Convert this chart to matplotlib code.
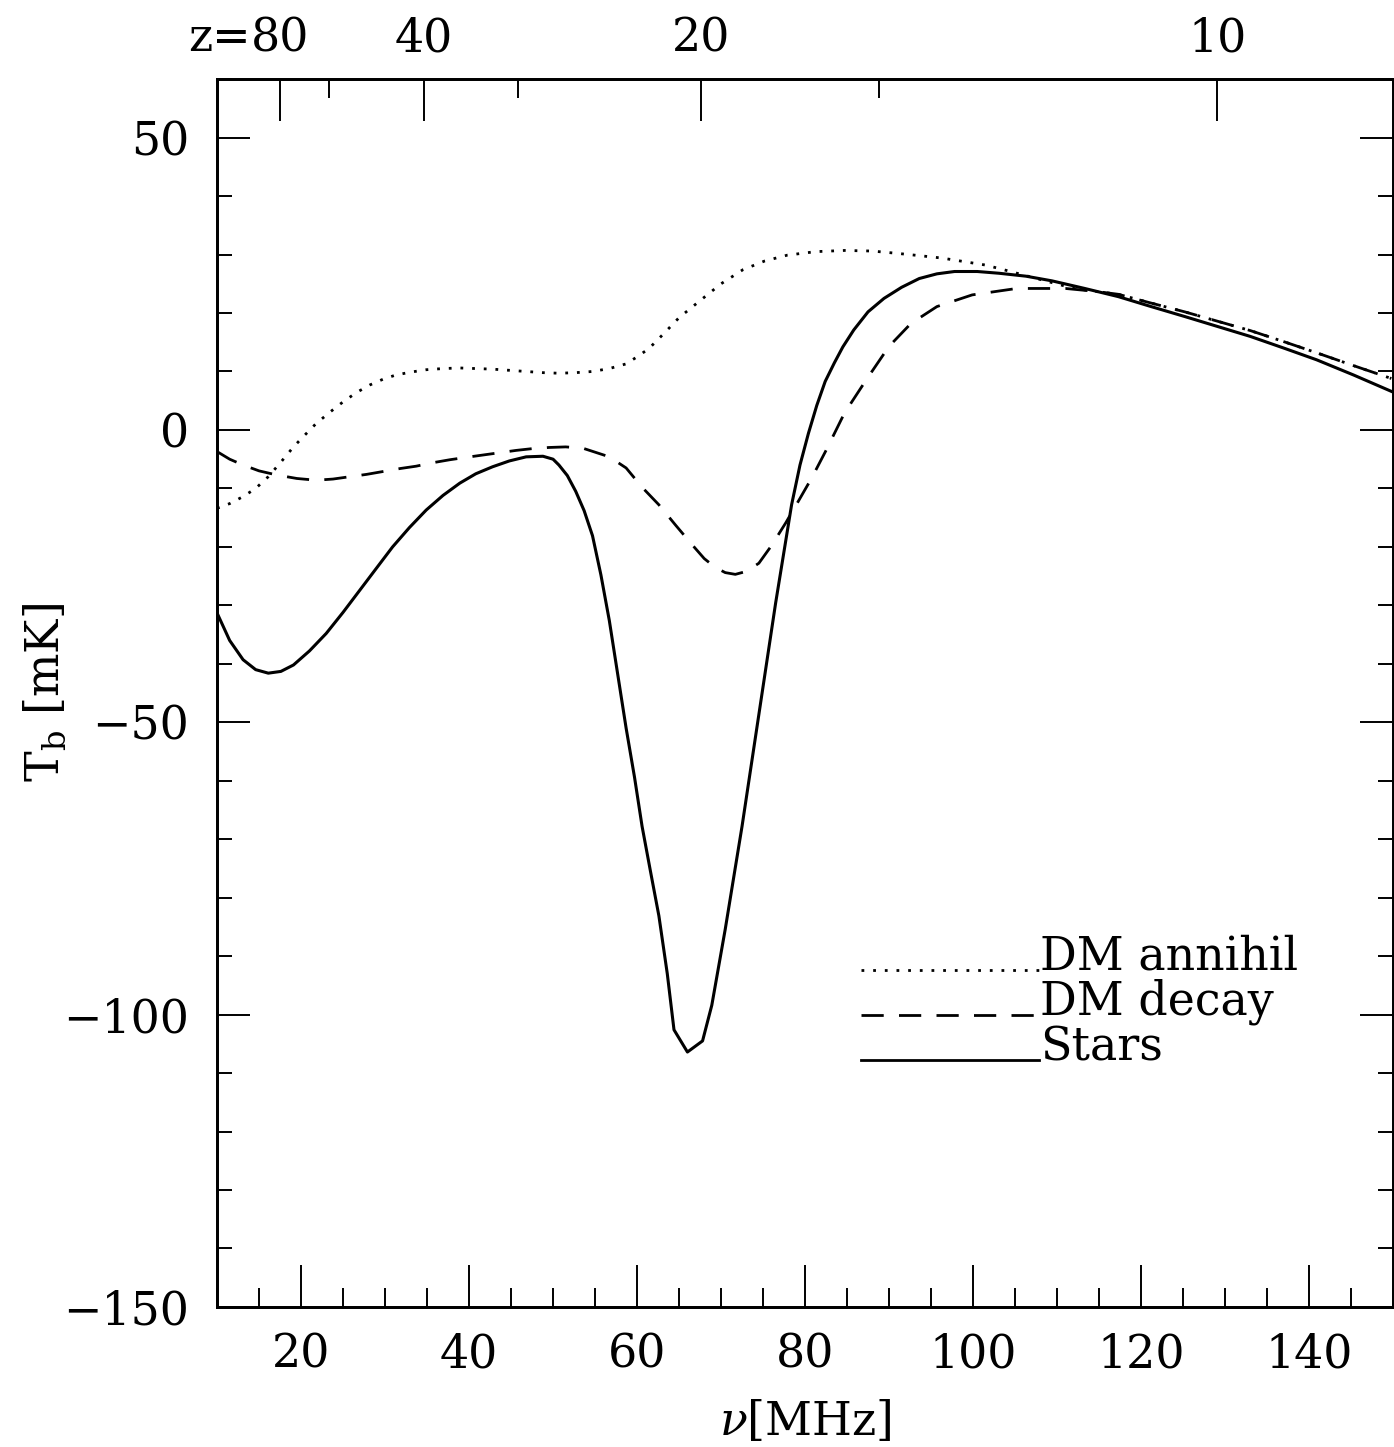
import numpy as np
import matplotlib
matplotlib.use('Agg')
import matplotlib.pyplot as plt
from matplotlib.ticker import MultipleLocator, FixedLocator, NullFormatter

# brightness temperature vs frequency
nu_stars = [10.0, 11.5, 13.1, 14.6, 16.1, 17.6, 19.1, 21.0, 23.0, 25.0, 27.0, 29.0,
            30.9, 32.9, 34.9, 36.9, 38.9, 40.8, 42.8, 44.8, 46.8, 48.8, 50.0, 50.7,
            51.7, 52.7, 53.7, 54.7, 55.7, 56.7, 57.7, 58.7, 59.7, 60.6, 61.6, 62.6,
            63.6, 64.4, 66.0, 67.8, 68.9, 70.5, 72.5, 74.5, 76.5, 78.4, 79.4, 80.4,
            81.4, 82.4, 83.5, 84.5, 85.8, 87.5, 89.4, 91.5, 93.6, 95.7, 97.8, 100.5,
            103.1, 106.3, 109.4, 113.3, 117.3, 121.2, 125.2, 129.1, 133.0, 137.0,
            140.9, 145.3, 149.8]
T_stars = [-31.3, -36.0, -39.3, -41.0, -41.6, -41.3, -40.2, -37.8, -34.8, -31.2, -27.4, -23.6,
           -20.0, -16.7, -13.7, -11.2, -9.1, -7.5, -6.3, -5.3, -4.6, -4.5, -5.0, -6.0,
           -7.8, -10.5, -13.8, -18.1, -24.8, -32.6, -41.8, -51.0, -59.4, -67.8, -75.5, -83.1,
           -93.0, -102.6, -106.4, -104.5, -98.4, -85.4, -67.8, -48.7, -29.6, -12.8, -6.0, -0.6,
           4.2, 8.3, 11.5, 14.2, 17.1, 20.2, 22.5, 24.4, 25.9, 26.7, 27.1, 27.1,
           26.8, 26.3, 25.5, 24.2, 22.8, 21.1, 19.4, 17.7, 16.0, 14.0,
           12.0, 9.4, 6.6]

nu_decay = [10.0, 11.5, 13.1, 15.0, 17.1, 19.5, 21.8, 23.8, 25.8, 27.8, 29.8, 31.8,
            33.7, 35.7, 37.7, 39.6, 41.6, 43.6, 45.6, 47.5, 49.5, 51.5, 53.5, 55.0,
            56.7, 58.7, 60.6, 62.6, 64.6, 66.6, 68.0, 69.3, 70.5, 71.7, 73.0, 74.5,
            76.0, 77.7, 79.2, 80.8, 82.5, 84.7, 87.3, 90.0, 92.6, 95.7, 99.9, 105.2,
            111.0, 114.6, 117.3, 121.2, 125.2, 129.1, 133.0, 137.0, 140.9, 145.3, 149.8]
T_decay = [-3.7, -5.0, -6.0, -7.0, -7.7, -8.3, -8.6, -8.4, -8.0, -7.6, -7.1, -6.6,
           -6.2, -5.6, -5.1, -4.7, -4.3, -3.9, -3.5, -3.2, -3.0, -2.9, -3.1, -3.8,
           -4.6, -6.5, -9.8, -12.8, -16.3, -19.7, -22.0, -23.5, -24.4, -24.7, -24.2, -22.8,
           -19.8, -15.9, -12.2, -8.2, -3.5, 2.9, 8.6, 14.3, 18.2, 21.1, 23.1, 24.2,
           24.2, 23.7, 23.2, 21.7, 20.2, 18.6, 17.0, 15.1, 13.2, 11.0, 8.8]

nu_annihil = [10.0, 11.5, 13.1, 14.6, 16.1, 17.6, 19.1, 20.5, 21.8, 23.4, 25.0, 26.6,
              28.2, 29.8, 31.3, 33.1, 34.9, 36.9, 38.9, 40.8, 42.8, 44.8, 46.8, 48.8,
              50.7, 52.7, 54.7, 56.7, 58.7, 60.0, 61.4, 63.2, 65.0, 67.4, 70.0, 72.6,
              75.2, 77.9, 81.3, 84.7, 88.0, 91.0, 93.7, 96.3, 98.9, 101.5, 104.2, 106.8,
              109.4, 112.0, 114.6, 117.3, 121.2, 125.2, 129.1, 133.0, 137.0, 140.9,
              145.3, 149.8]
T_annihil = [-13.4, -12.6, -11.4, -10.0, -8.0, -5.5, -2.9, -0.8, 1.1, 3.0, 4.8, 6.4,
             7.7, 8.7, 9.4, 9.9, 10.3, 10.5, 10.6, 10.5, 10.4, 10.2, 10.0, 9.8,
             9.7, 9.8, 10.0, 10.5, 11.3, 12.5, 13.9, 16.5, 19.2, 22.0, 25.0, 27.4,
             28.9, 29.9, 30.5, 30.7, 30.6, 30.2, 29.8, 29.4, 28.8, 28.2, 27.2, 26.2,
             25.2, 24.2, 23.7, 23.2, 21.7, 20.2, 18.6, 17.0, 15.1, 13.2,
             11.0, 8.8]

# redshift axis on top
z_major = [80, 40, 20, 10]
z_minor = [60, 30, 15]

plt.rcParams['font.family'] = 'DejaVu Serif'
plt.rcParams['mathtext.fontset'] = 'dejavuserif'
fs = 33

fig = plt.figure(figsize=(13.94, 14.47), dpi=100)
ax = fig.add_axes([0.1557, 0.0968, 0.8436, 0.8485])

ax.plot(nu_annihil, T_annihil, color='black', lw=2.0, linestyle=(0, (1, 3.2)))
ax.plot(nu_decay, T_decay, color='black', lw=2.0, linestyle=(0, (8, 5.5)))
ax.plot(nu_stars, T_stars, color='black', lw=2.2, linestyle='-')

ax.set_xlim(10, 150)
ax.set_ylim(-150, 60)
ax.xaxis.set_major_locator(MultipleLocator(20))
ax.xaxis.set_minor_locator(MultipleLocator(5))
ax.yaxis.set_major_locator(MultipleLocator(50))
ax.yaxis.set_minor_locator(MultipleLocator(10))
ax.tick_params(axis='both', which='both', direction='in', width=1.4, labelsize=fs)
ax.tick_params(axis='x', which='major', length=30, pad=18, top=False)
ax.tick_params(axis='x', which='minor', length=14, top=False)
ax.tick_params(axis='y', which='major', length=24, pad=20, right=True)
ax.tick_params(axis='y', which='minor', length=11, right=True)
for sp in ax.spines.values():
    sp.set_linewidth(2.0)

ax.set_xlabel(r'$\nu$[MHz]', fontsize=fs, labelpad=16)
ax.set_ylabel(r'T$_{\rm b}$ [mK]', fontsize=fs, labelpad=-4)

# top axis: z = 1420/nu - 1
ax2 = ax.twiny()
ax2.set_xlim(ax.get_xlim())
ax2.xaxis.set_major_locator(FixedLocator([1420.0 / (1 + z) for z in z_major]))
ax2.xaxis.set_minor_locator(FixedLocator([1420.0 / (1 + z) for z in z_minor]))
ax2.set_xticklabels([str(z) for z in z_major])
ax2.xaxis.set_minor_formatter(NullFormatter())
ax2.tick_params(axis='x', which='both', direction='in', width=1.4, labelsize=fs)
ax2.tick_params(axis='x', which='major', length=30, pad=13)
ax2.tick_params(axis='x', which='minor', length=14)
for sp in ax2.spines.values():
    sp.set_linewidth(2.0)
ax2.annotate('z=', xy=(1420.0 / 81, 1.0), xycoords=('data', 'axes fraction'),
             xytext=(-21, 13), textcoords='offset points', ha='right', va='bottom',
             fontsize=fs)

# legend drawn by hand, lines ending at the labels
leg_labels = ['DM annihil', 'DM decay', 'Stars']
leg_styles = [(0, (1, 3.2)), (0, (8, 5.5)), '-']
leg_y = [0.2745, 0.2378, 0.2010]
for lab, ls, yy in zip(leg_labels, leg_styles, leg_y):
    ax.plot([0.548, 0.699], [yy, yy], transform=ax.transAxes, color='black',
            lw=2.0, linestyle=ls, clip_on=False)
    ax.text(0.700, yy, lab, transform=ax.transAxes, ha='left', va='baseline', fontsize=fs)

fig.savefig('out.png', dpi=100)
